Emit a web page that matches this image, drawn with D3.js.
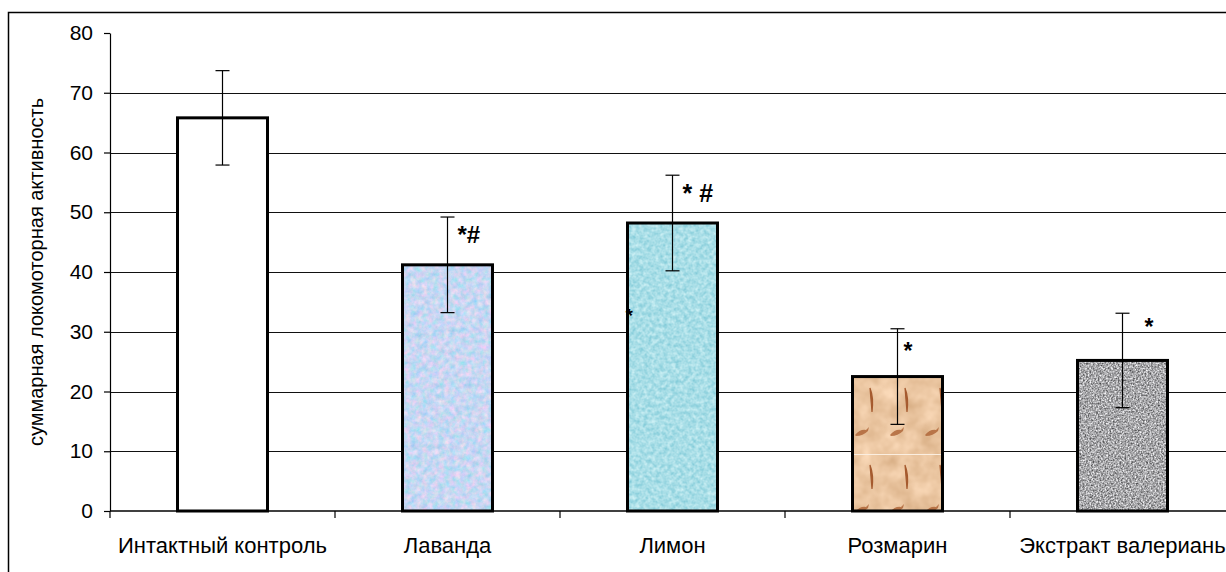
<!DOCTYPE html>
<html lang="ru">
<head>
<meta charset="UTF-8">
<script src="https://cdn.jsdelivr.net/npm/d3@7/dist/d3.min.js"></script>
<title>Локомоторная активность</title>
<style>
  body { margin: 0; background: #fff; }
  svg { display: block; font-family: "Liberation Sans", Arial, sans-serif; }
</style>
</head>
<body>
<script>
  // данные
  var categories = ["Интактный контроль", "Лаванда", "Лимон", "Розмарин", "Экстракт валерианы"];
  var shownLabels = ["Интактный контроль", "Лаванда", "Лимон", "Розмарин", "Экстракт валериань"];
  var means = [65.8, 41.2, 48.2, 22.5, 25.2];
  var errors = [7.9, 8.0, 8.0, 8.0, 7.9];
  var yTicks = [0, 10, 20, 30, 40, 50, 60, 70, 80];

  // пометки значимости: категория, текст, уровень по оси y
  var markCats = ["Лаванда", "Лимон", "Лимон", "Розмарин", "Экстракт валерианы"];
  var markTexts = ["*#", "* #", "*", "*", "*"];
  var markLevels = [44.9, 51.7, 31.6, 25.4, 29.4];

  // оформление пометок (смещение от центра столбца, кегль)
  var markDx = [10, 10, -47, 6, 22];
  var markSize = [24, 25, 19, 23, 23];

  var W = 1226, H = 572;
  var mLeft = 110, mTop = 33, mBottom = 511;

  var svg = d3.select("body").append("svg")
    .attr("width", W).attr("height", H);

  var defs = svg.append("defs");

  // текстуры заливки
  function noiseFilter(id, freq, oct, matrix, seed) {
    var f = defs.append("filter").attr("id", id)
      .attr("x", 0).attr("y", 0).attr("width", 1).attr("height", 1)
      .attr("color-interpolation-filters", "sRGB");
    f.append("feTurbulence").attr("type", "fractalNoise").attr("baseFrequency", freq)
      .attr("numOctaves", oct).attr("seed", seed).attr("result", "n");
    f.append("feColorMatrix").attr("in", "n").attr("type", "matrix").attr("values", matrix);
  }
  noiseFilter("fLav", 0.18, 3,
    "0.5 0 0 0 0.53  0 0.15 0 0 0.77  0 0 0.1 0 0.9  0 0 0 0 1", 4);
  noiseFilter("fAqua", 0.25, 3,
    "0.4 0 0 0 0.46  0.2 0 0 0 0.77  0.15 0 0 0 0.83  0 0 0 0 1", 7);
  noiseFilter("fSand", 0.05, 3,
    "0.2 0 0 0 0.82  0.25 0 0 0 0.65  0.3 0 0 0 0.48  0 0 0 0 1", 2);
  noiseFilter("fGrain", 0.6, 2,
    "1.05 0 0 0 0.13  1.05 0 0 0 0.13  1.05 0 0 0 0.14  0 0 0 0 1", 9);
  var texFilters = [null, "url(#fLav)", "url(#fAqua)", "url(#fSand)", "url(#fGrain)"];

  var fishes = defs.append("pattern").attr("id", "fish")
    .attr("patternUnits", "userSpaceOnUse")
    .attr("x", 852).attr("y", 378).attr("width", 35).attr("height", 77);
  fishes.append("path")
    .attr("d", "M 18 10 q 4 10 2 24 q -1 -12 -2 -24 z")
    .attr("fill", "#a55a2e").attr("stroke", "#a55a2e").attr("stroke-width", 1.2);
  fishes.append("path")
    .attr("d", "M 3 57 q 5 -6 11 -5 l 3 -3 l -1 4 q -5 5 -12 5 z")
    .attr("fill", "#b0683a").attr("opacity", 0.85);
  fishes.append("line").attr("x1", 0).attr("x2", 35).attr("y1", 76.5).attr("y2", 76.5)
    .attr("stroke", "#fbeee0").attr("stroke-width", 1.2);

  var x = d3.scaleBand().domain(categories).range([mLeft, 1235]);
  var y = d3.scaleLinear().domain([0, 80]).range([mBottom, mTop]);
  var barW = x.bandwidth() * 0.4;
  var bx = function(d) { return x(d) + (x.bandwidth() - barW) / 2; };
  var cx = function(d) { return x(d) + x.bandwidth() / 2; };

  // рамка
  svg.append("rect").attr("x", 8.5).attr("y", 12.5)
    .attr("width", 1400).attr("height", 800)
    .attr("fill", "none").attr("stroke", "#000").attr("stroke-width", 1.5);

  // сетка
  svg.append("g").selectAll("line")
    .data(yTicks.filter(function(t) { return t > 0 && t < 80; }))
    .join("line")
    .attr("x1", mLeft).attr("x2", W)
    .attr("y1", function(d) { return Math.round(y(d)) + 0.5; })
    .attr("y2", function(d) { return Math.round(y(d)) + 0.5; })
    .attr("stroke", "#111").attr("stroke-width", 1.2);

  // столбцы
  var bars = svg.append("g").selectAll("g")
    .data(categories).join("g");

  bars.append("rect")
    .attr("x", bx)
    .attr("y", function(d, i) { return y(means[i]); })
    .attr("width", barW)
    .attr("height", function(d, i) { return y(0) - y(means[i]); })
    .attr("fill", "#fff")
    .attr("filter", function(d, i) { return texFilters[i]; });

  bars.filter(function(d, i) { return i === 3; }).append("rect")
    .attr("x", bx)
    .attr("y", y(means[3]))
    .attr("width", barW)
    .attr("height", y(0) - y(means[3]))
    .attr("fill", "url(#fish)");

  bars.append("rect")
    .attr("x", bx)
    .attr("y", function(d, i) { return y(means[i]); })
    .attr("width", barW)
    .attr("height", function(d, i) { return y(0) - y(means[i]); })
    .attr("fill", "none").attr("stroke", "#000").attr("stroke-width", 3);

  // планки погрешностей
  var eb = svg.append("g").attr("stroke", "#000").attr("stroke-width", 1.2);
  eb.selectAll(".v").data(categories).join("line").attr("class", "v")
    .attr("x1", cx).attr("x2", cx)
    .attr("y1", function(d, i) { return y(means[i] + errors[i]); })
    .attr("y2", function(d, i) { return y(means[i] - errors[i]); });
  eb.selectAll(".t").data(categories).join("line").attr("class", "t")
    .attr("x1", function(d) { return cx(d) - 7; }).attr("x2", function(d) { return cx(d) + 7; })
    .attr("y1", function(d, i) { return y(means[i] + errors[i]); })
    .attr("y2", function(d, i) { return y(means[i] + errors[i]); });
  eb.selectAll(".b").data(categories).join("line").attr("class", "b")
    .attr("x1", function(d) { return cx(d) - 7; }).attr("x2", function(d) { return cx(d) + 7; })
    .attr("y1", function(d, i) { return y(means[i] - errors[i]); })
    .attr("y2", function(d, i) { return y(means[i] - errors[i]); });

  // пометки
  svg.append("g").selectAll("text")
    .data(markTexts).join("text")
    .attr("x", function(d, i) { return cx(markCats[i]) + markDx[i]; })
    .attr("y", function(d, i) { return y(markLevels[i]); })
    .attr("font-size", function(d, i) { return markSize[i]; })
    .attr("font-weight", "bold")
    .text(function(d) { return d; });

  // ось y
  var yAxis = svg.append("g").attr("transform", "translate(" + mLeft + ",0)")
    .call(d3.axisLeft(y).tickValues(yTicks).tickSize(6).tickSizeOuter(0).tickPadding(11));
  yAxis.selectAll("text").attr("font-size", 21).attr("fill", "#000")
    .attr("font-family", "Liberation Sans, Arial, sans-serif");
  yAxis.selectAll("line,path").attr("stroke", "#000").attr("stroke-width", 1.2);

  // ось x
  svg.append("line").attr("x1", mLeft).attr("x2", W)
    .attr("y1", y(0)).attr("y2", y(0))
    .attr("stroke", "#000").attr("stroke-width", 1.6);
  svg.append("g").selectAll("line")
    .data(categories).join("line")
    .attr("x1", function(d) { return x(d); }).attr("x2", function(d) { return x(d); })
    .attr("y1", y(0)).attr("y2", y(0) + 7)
    .attr("stroke", "#000").attr("stroke-width", 1.2);

  svg.append("g").selectAll("text")
    .data(categories).join("text")
    .attr("x", cx).attr("y", 553)
    .attr("text-anchor", "middle").attr("font-size", 22)
    .text(function(d, i) { return shownLabels[i]; });

  svg.append("text")
    .attr("transform", "translate(43," + ((mTop + mBottom) / 2) + ") rotate(-90)")
    .attr("text-anchor", "middle").attr("font-size", 20)
    .text("суммарная локомоторная активность");
</script>
</body>
</html>
